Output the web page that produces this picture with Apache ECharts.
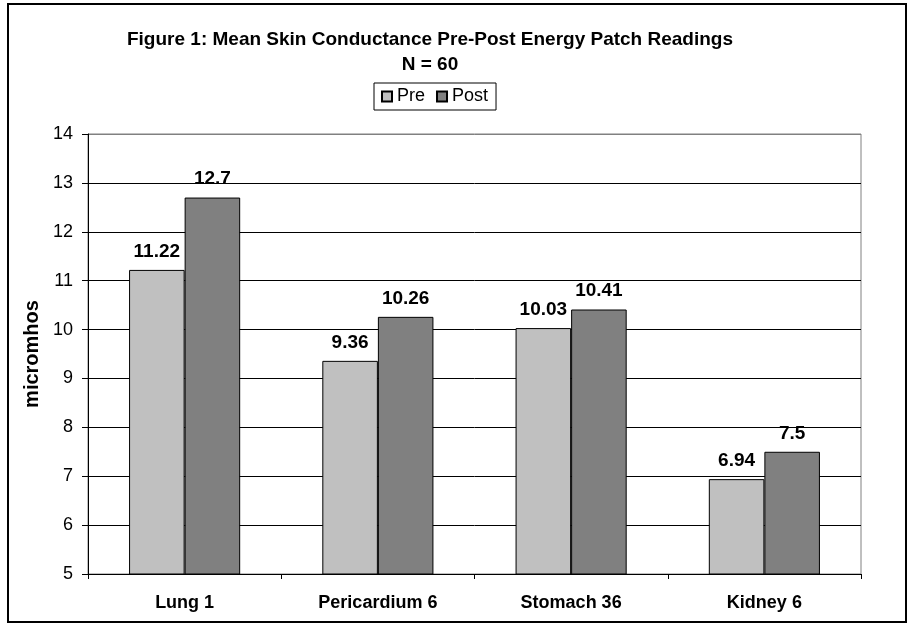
<!DOCTYPE html>
<html>
<head>
<meta charset="utf-8">
<script src="https://cdn.jsdelivr.net/npm/echarts@6/dist/echarts.min.js"></script>
<style>
  html, body { margin: 0; padding: 0; background: #fff; }
  #chart { width: 915px; height: 627px; }
</style>
</head>
<body>
<div id="chart"></div>
<script>
var categories = ['Lung 1', 'Pericardium 6', 'Stomach 36', 'Kidney 6']
var preValues = [11.22, 9.36, 10.03, 6.94]
var postValues = [12.7, 10.26, 10.41, 7.5]
var yMin = 5
var yMax = 14

var chart = echarts.init(document.getElementById('chart'))
var font = 'Liberation Sans, Arial, sans-serif'

var labelStyle = {
  show: true,
  position: 'top',
  distance: 9,
  color: '#000',
  fontFamily: font,
  fontWeight: 'bold',
  fontSize: 19,
}

// gridlines black, the top one gray like the plot border
var gridColors = []
for (var i = yMin; i < yMax; i++) gridColors.push('#000')
gridColors.push('#808080')

var option = {
  animation: false,
  textStyle: { fontFamily: font },
  title: {
    text: 'Figure 1: Mean Skin Conductance Pre-Post Energy Patch Readings\nN = 60',
    left: 425,
    top: 22,
    textAlign: 'center',
    textStyle: {
      fontFamily: font,
      fontSize: 19,
      fontWeight: 'bold',
      color: '#000',
      lineHeight: 25,
    },
  },
  legend: {
    data: ['Pre', 'Post'],
    left: 374,
    top: 83,
    padding: [4, 8, 4, 7],
    itemWidth: 10,
    itemHeight: 10,
    itemGap: 11,
    icon: 'rect',
    borderColor: '#000',
    borderWidth: 1,
    textStyle: { fontFamily: font, fontSize: 18, color: '#000', lineHeight: 19 },
  },
  grid: {
    left: 88,
    right: 54,
    top: 134,
    bottom: 53,
    show: true,
    borderColor: '#808080',
    borderWidth: 1,
  },
  xAxis: {
    type: 'category',
    data: categories,
    axisLine: { lineStyle: { color: '#000', width: 1 } },
    axisTick: { show: true, length: 5, lineStyle: { color: '#000' } },
    axisLabel: {
      color: '#000',
      fontFamily: font,
      fontWeight: 'bold',
      fontSize: 18,
      margin: 20,
    },
  },
  yAxis: {
    type: 'value',
    min: yMin,
    max: yMax,
    interval: 1,
    name: 'micromhos',
    nameLocation: 'middle',
    nameGap: 46,
    nameTextStyle: { fontFamily: font, fontWeight: 'bold', fontSize: 20, color: '#000' },
    axisLine: { show: true, lineStyle: { color: '#000', width: 1 } },
    axisTick: { show: true, length: 6, lineStyle: { color: '#000' } },
    axisLabel: { color: '#000', fontFamily: font, fontSize: 18, margin: 15 },
    splitLine: { show: true, lineStyle: { color: gridColors, width: 1 } },
  },
  series: [
    {
      name: 'Pre',
      type: 'bar',
      data: preValues,
      barGap: '0%',
      barCategoryGap: '42.5%',
      itemStyle: { color: '#c0c0c0', borderColor: '#000', borderWidth: 1 },
      label: labelStyle,
    },
    {
      name: 'Post',
      type: 'bar',
      data: postValues,
      itemStyle: { color: '#808080', borderColor: '#000', borderWidth: 1 },
      label: labelStyle,
    },
  ],
  graphic: [
    {
      type: 'rect',
      shape: { x: 8, y: 4, width: 898, height: 618 },
      style: { fill: 'none', stroke: '#000', lineWidth: 2 },
      silent: true,
    },
  ],
}

chart.setOption(option)
</script>
</body>
</html>
